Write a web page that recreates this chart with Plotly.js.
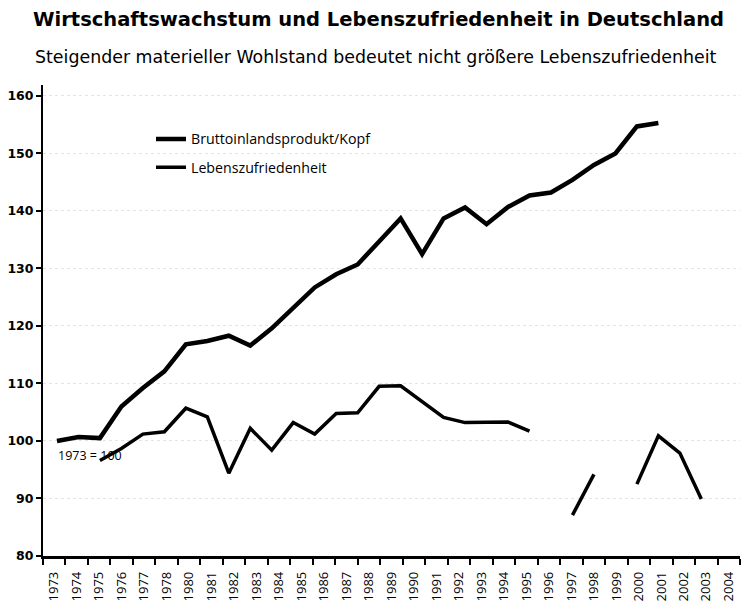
<!DOCTYPE html>
<html>
<head>
<meta charset="utf-8">
<script src="https://cdn.plot.ly/plotly-3.0.1.min.js"></script>
<style>html,body{margin:0;padding:0;background:#fff;}#chart{width:743px;height:606px;}</style>
</head>
<body>
<div id="chart"></div>
<script>
// Data years (includes 1979)
const years = [1973,1974,1975,1976,1977,1978,1979,1980,1981,1982,1983,1984,1985,1986,1987,1988,1989,1990,1991,1992,1993,1994,1995,1996,1997,1998,1999,2000,2001,2002,2003,2004];
const bipProKopf = [100,100.7,100.5,106.0,109.2,112.1,116.8,117.4,118.3,116.6,119.6,123.2,126.7,129.0,130.7,134.7,138.7,132.5,138.7,140.6,137.7,140.7,142.7,143.2,145.4,148.0,150.0,154.7,155.3,null,null,null];
const lebenszufriedenheit = [null,null,96.6,98.7,101.2,101.6,105.7,104.2,94.4,102.2,98.4,103.2,101.2,104.8,104.9,109.5,109.6,106.8,104.1,103.2,103.2,103.3,101.7,null,87.1,94.2,null,92.5,100.9,97.9,89.9,null];
// Axis tick labels as printed (1979 missing in original labels)
const tickLabels = ["1973","1974","1975","1976","1977","1978","1980","1981","1982","1983","1984","1985","1986","1987","1988","1989","1990","1991","1992","1993","1994","1995","1996","1997","1998","1999","2000","2001","2002","2003","2004"];
const seriesNames = ["Bruttoinlandsprodukt/Kopf","Lebenszufriedenheit"];

const traces = [
  {x: tickLabels, y: tickLabels.map(()=>null), xaxis:'x', yaxis:'y', type:'scatter', mode:'lines', showlegend:false, hoverinfo:'skip'},
  {x: years, y: bipProKopf, xaxis:'x2', yaxis:'y', type:'scatter', mode:'lines', name: seriesNames[0],
   line:{color:'#000', width:4.5, shape:'linear'}, legendgroup:'a'},
  {x: years, y: lebenszufriedenheit, xaxis:'x2', yaxis:'y', type:'scatter', mode:'lines', name: seriesNames[1],
   line:{color:'#000', width:3.5}, legendgroup:'b', connectgaps:false}
];

const layout = {
  width:743, height:606,
  margin:{l:43, r:3, t:85, b:50, pad:0},
  paper_bgcolor:'#fff', plot_bgcolor:'#fff',
  title:{text:'<b>Wirtschaftswachstum und Lebenszufriedenheit in Deutschland</b>',
    font:{family:'DejaVu Sans', size:19.5, color:'#000'},
    xref:'container', x:33/743, xanchor:'left', yref:'container', y:1-19/606, yanchor:'middle'},
  annotations:[
    {text:'Steigender materieller Wohlstand bedeutet nicht größere Lebenszufriedenheit',
     xref:'paper', yref:'paper', x:(33-43)/697, y:(556-57)/471, xanchor:'left', yanchor:'middle',
     showarrow:false, font:{family:'DejaVu Sans', size:17.4, color:'#000'}},
    {text:'1973 = 100', xref:'x2', yref:'y', x:1972.95, y:97.5, xanchor:'left', yanchor:'middle',
     showarrow:false, font:{family:'Open Sans', size:12.5, color:'#000'}}
  ],
  xaxis:{type:'category', categoryorder:'array', categoryarray:tickLabels, range:[-0.5,30.5],
    tickson:'boundaries', ticks:'outside', ticklen:6, tickwidth:2, tickcolor:'#000',
    tickangle:-90, tickfont:{family:'Open Sans', size:13, color:'#000'}, ticklabelstandoff:8,
    showline:true, linecolor:'#000', linewidth:2.5, showgrid:false, zeroline:false, fixedrange:true},
  xaxis2:{type:'linear', overlaying:'x', range:[1972.35,2004.80], visible:false, showgrid:false, zeroline:false},
  yaxis:{range:[80,161.9], tickvals:[80,90,100,110,120,130,140,150,160], ticks:'outside', ticklen:5, tickwidth:2,
    tickcolor:'#000', tickfont:{family:'DejaVu Sans', size:12.5, color:'#000', weight:'bold'},
    showline:true, linecolor:'#000', linewidth:2, showgrid:true, gridcolor:'#e4e4e4', griddash:'dot', gridwidth:1,
    zeroline:false, fixedrange:true},
  showlegend:true,
  legend:{x:(151-43)/697, xanchor:'left', y:0.919, yanchor:'top', bgcolor:'rgba(0,0,0,0)',
    font:{family:'Open Sans', size:14.2, color:'#000'}, tracegroupgap:7, traceorder:'grouped'}
};

Plotly.newPlot('chart', traces, layout, {staticPlot:true, displayModeBar:false});
</script>
</body>
</html>
